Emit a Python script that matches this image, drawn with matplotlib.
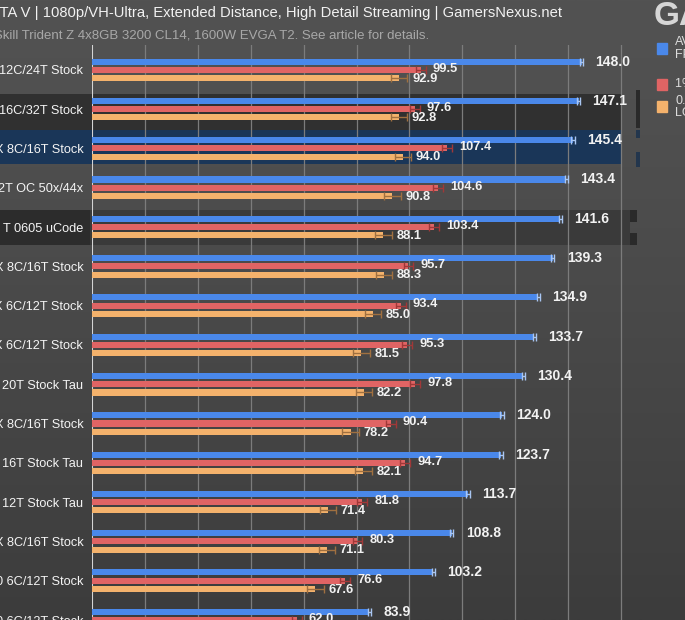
import matplotlib.pyplot as plt
import numpy as np
from matplotlib.patches import Rectangle

plt.rcParams["font.family"] = ["Liberation Sans", "DejaVu Sans"]

W, H = 685, 620

cpus = ["12C/24T Stock", "16C/32T Stock", "X 8C/16T Stock", "2T OC 50x/44x",
        "T 0605 uCode", "X 8C/16T Stock", "X 6C/12T Stock", "X 6C/12T Stock",
        "20T Stock Tau", "X 8C/16T Stock", "16T Stock Tau", "12T Stock Tau",
        "X 8C/16T Stock", "0 6C/12T Stock", "0 6C/12T Stock"]
avg_fps = [148.0, 147.1, 145.4, 143.4, 141.6, 139.3, 134.9, 133.7,
           130.4, 124.0, 123.7, 113.7, 108.8, 103.2, 83.9]
low_1 = [99.5, 97.6, 107.4, 104.6, 103.4, 95.7, 93.4, 95.3,
         97.8, 90.4, 94.7, 81.8, 80.3, 76.6, 62.0]
low_01 = [92.9, 92.8, 94.0, 90.8, 88.1, 88.3, 85.0, 81.5,
          82.2, 78.2, 82.1, 71.4, 71.1, 67.6, 55.0]
legend_labels = ["AVG\nFPS", "1% LOW", "0.1%\nLOW"]

blue, red, orange = "#4a88ea", "#e06464", "#f4b26c"
blue_e, red_e, orange_e = "#a9c6f2", "#a03838", "#a07040"


def fx(x):
    return x / W


def fy(y):
    return 1 - y / H


fig = plt.figure(figsize=(W / 100, H / 100), dpi=100)

# background gradient
bg = fig.add_axes([0, 0, 1, 1], zorder=-10)
grad = np.linspace(0, 1, 256).reshape(-1, 1)
top, bot = np.array([82, 82, 82]) / 255, np.array([60, 60, 60]) / 255
img = top + (bot - top) * grad[:, :, None] ** 1.3
bg.imshow(img, aspect="auto", extent=[0, 1, 0, 1])
bg.axis("off")

# highlight bands (from the video frame)
def band(x0, y0, x1, y1, c):
    fig.add_artist(Rectangle((fx(x0), fy(y1)), fx(x1) - fx(x0), (y1 - y0) / H,
                             transform=fig.transFigure, color=c, zorder=-5, lw=0))

band(0, 94, 621, 130, "#303030")
band(636, 90, 640, 128, "#2a2a2a")
band(0, 130, 621, 164, "#1a3658")
band(636, 130, 640, 138, "#23364d")
band(636, 152, 640, 167, "#23364d")
band(0, 210, 90, 245, "#2c2c2c")
band(90, 210, 630, 245, "#3a3a3a")
band(630, 210, 637, 222, "#2a2a2a")
band(630, 233, 637, 245, "#2a2a2a")

ax = fig.add_axes([fx(91.7), 0, 1 - fx(91.7), (H - 45) / H])
ax.set_facecolor("none")
for s in ax.spines.values():
    s.set_visible(False)

y = np.arange(len(cpus))
off, bh = 0.21, 0.155
ax.barh(y - off, avg_fps, height=bh, color=blue, zorder=3)
ax.barh(y, low_1, height=bh, color=red, zorder=3)
ax.barh(y + off, low_01, height=bh, color=orange, zorder=3)
ax.errorbar(avg_fps, y - off, xerr=0.5, fmt="none", ecolor=blue_e, capsize=3, lw=1, zorder=4)
ax.errorbar(low_1, y, xerr=1.5, fmt="none", ecolor=red_e, capsize=3, lw=1, zorder=4)
ax.errorbar(low_01, y + off, xerr=2.5, fmt="none", ecolor=orange_e, capsize=3, lw=1, zorder=4)

for i in range(len(cpus)):
    ax.text(avg_fps[i] + 4.2, i - off, f"{avg_fps[i]:.1f}", color="#f2f2f2", fontsize=10,
            fontweight="bold", va="center", ha="left", zorder=5)
    ax.text(low_1[i] + 3.6, i - 0.03, f"{low_1[i]:.1f}", color="#f2f2f2", fontsize=9.3,
            fontweight="bold", va="center", ha="left", zorder=5)
    ax.text(low_01[i] + 3.9, i + off + 0.02, f"{low_01[i]:.1f}", color="#f2f2f2", fontsize=9.3,
            fontweight="bold", va="center", ha="left", zorder=5)

ax.set_xlim(0, (W - 91.7) / 3.31)
ax.set_ylim((H - 70) / 39.56, (45 - 70) / 39.56)
ax.set_xticks(np.arange(0, 161, 16))
ax.xaxis.grid(True, color="#7c7c7c", lw=0.9, zorder=0)
ax.axvline(0, color="#e6e6e6", lw=1.2, zorder=2)
ax.tick_params(axis="x", length=0, labelbottom=False)
ax.set_yticks(y)
ax.set_yticklabels(cpus, color="#f4f4f4", fontsize=9.2)
ax.tick_params(axis="y", length=0, pad=6)

# title & subtitle
fig.text(fx(562), fy(13), "GTA V | 1080p/VH-Ultra, Extended Distance, High Detail Streaming | GamersNexus.net",
         ha="right", va="center", color="#f2f2f2", fontsize=10.6)
fig.text(fx(429), fy(35), "G.Skill Trident Z 4x8GB 3200 CL14, 1600W EVGA T2. See article for details.",
         ha="right", va="center", color="#a8a8a8", fontsize=9.5)
fig.text(fx(654), fy(25), "GAMERSNEXUS", ha="left", va="baseline", color="#d6d6d6",
         fontsize=24, fontweight="bold")

# legend
for (c, lab, yc) in zip([blue, red, orange], legend_labels, [48.5, 84, 107]):
    fig.add_artist(Rectangle((fx(657), fy(yc + 5.5)), 10 / W, 11 / H,
                             transform=fig.transFigure, color=c, zorder=6))
    fig.text(fx(675), fy(yc), lab, ha="left", va="center", color="#dcdcdc",
             fontsize=9, linespacing=1.1)

plt.savefig("out.png", dpi=100)
